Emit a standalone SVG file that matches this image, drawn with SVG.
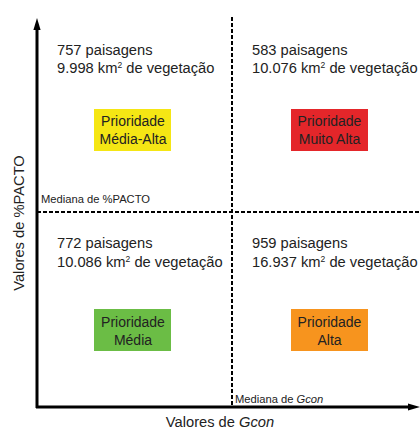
<svg xmlns="http://www.w3.org/2000/svg" width="420" height="431" viewBox="0 0 420 431">
<style>
.t{font-family:"Liberation Sans",Arial,sans-serif;font-size:14.7px;fill:#222}
.s{font-family:"Liberation Sans",Arial,sans-serif;font-size:11.2px;fill:#222}
.p{font-family:"Liberation Sans",Arial,sans-serif;font-size:14px;fill:#222;text-anchor:middle}
.sup{font-size:8.5px}
.ax{stroke:#000;stroke-width:3;fill:none}
.d{stroke:#000;stroke-width:2;stroke-dasharray:4 2;fill:none}
</style>
<defs>
<marker id="ah" markerWidth="4" markerHeight="3" refX="1" refY="1.2" orient="auto" markerUnits="strokeWidth">
<path d="M0,0 L4,1.2 L0,2.4 Z" fill="#000"/>
</marker>
</defs>
<rect width="420" height="431" fill="#fff"/>
<g id="connectors">
<line class="d" x1="232" y1="17" x2="232" y2="406"/>
<line class="d" x1="37" y1="212" x2="420" y2="212"/>
<line class="ax" x1="37" y1="408" x2="37" y2="27" marker-end="url(#ah)"/>
<line class="ax" x1="36" y1="407" x2="411" y2="407" marker-end="url(#ah)"/>
</g>
<g id="labels">
<text class="s" x="41" y="203">Mediana de %PACTO</text>
<text class="s" x="235" y="403">Mediana de <tspan font-style="italic">Gcon</tspan></text>
<text class="t" x="220" y="427" text-anchor="middle" font-size="16">Valores de <tspan font-style="italic">Gcon</tspan></text>
<text class="t" x="0" y="0" text-anchor="middle" font-size="14.5" transform="translate(24,223) rotate(-90)">Valores de %PACTO</text>
</g>
<g id="q-top-left">
<text class="t" x="57" y="55">757 paisagens</text>
<text class="t" x="57" y="73">9.998 km<tspan class="sup" dy="-5">2</tspan><tspan dy="5"> de vegetação</tspan></text>
</g>
<g id="q-top-right">
<text class="t" x="252" y="55">583 paisagens</text>
<text class="t" x="252" y="73">10.076 km<tspan class="sup" dy="-5">2</tspan><tspan dy="5"> de vegetação</tspan></text>
</g>
<g id="q-bottom-left">
<text class="t" x="57" y="248">772 paisagens</text>
<text class="t" x="57" y="267">10.086 km<tspan class="sup" dy="-5">2</tspan><tspan dy="5"> de vegetação</tspan></text>
</g>
<g id="q-bottom-right">
<text class="t" x="252" y="248">959 paisagens</text>
<text class="t" x="252" y="267">16.937 km<tspan class="sup" dy="-5">2</tspan><tspan dy="5"> de vegetação</tspan></text>
</g>
<g id="media-alta">
<rect x="94" y="109" width="77" height="42" fill="#F5E614"/>
<text class="p" x="133" y="126">Prioridade</text>
<text class="p" x="133" y="144">Média-Alta</text>
</g>
<g id="muito-alta">
<rect x="291" y="109" width="77" height="42" fill="#E4262A"/>
<text class="p" x="329.5" y="126">Prioridade</text>
<text class="p" x="329.5" y="144">Muito Alta</text>
</g>
<g id="media">
<rect x="94" y="309" width="77" height="42" fill="#6BBD45"/>
<text class="p" x="133" y="327">Prioridade</text>
<text class="p" x="133" y="345">Média</text>
</g>
<g id="alta">
<rect x="291" y="309" width="77" height="42" fill="#F7941E"/>
<text class="p" x="329.5" y="327">Prioridade</text>
<text class="p" x="329.5" y="345">Alta</text>
</g>
</svg>
